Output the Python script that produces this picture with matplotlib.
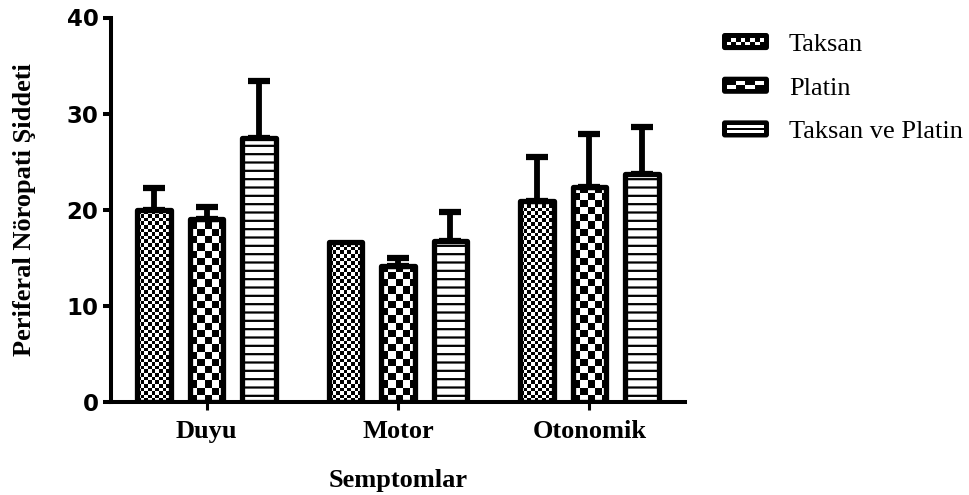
import numpy as np
import matplotlib
matplotlib.use('Agg')
import matplotlib.pyplot as plt
from matplotlib.patches import Rectangle, FancyBboxPatch
from matplotlib.legend_handler import HandlerBase

# data
categories = ['Duyu', 'Motor', 'Otonomik']
series_names = ['Taksan', 'Platin', 'Taksan ve Platin']
taksan_mean = [20.0, 16.6, 20.9]
taksan_err = [2.3, 0.0, 4.6]
platin_mean = [19.0, 14.2, 22.4]
platin_err = [1.3, 0.8, 5.5]
kombine_mean = [27.5, 16.7, 23.7]
kombine_err = [5.9, 3.1, 4.9]
y_ticks = [0, 10, 20, 30, 40]

SERIF = 'Liberation Serif'
plt.rcParams['hatch.linewidth'] = 1.6

W, H = 970, 495
fig = plt.figure(figsize=(W / 100, H / 100), dpi=100)
ax = fig.add_axes([111 / W, (H - 402) / H, 574 / W, 384.5 / H])

xlim = (-0.5, 2.5)
ylim = (0, 40)
px_x = (xlim[1] - xlim[0]) / 574.0   # data units per pixel
px_y = (ylim[1] - ylim[0]) / 384.5

x = np.arange(len(categories))
width = 0.175
offset = 0.274
edge_lw = 3.8


def checker_fill(bar, cell_px):
    """Fill a bar with a checkerboard image clipped to the bar outline."""
    x0 = bar.get_x()
    w = bar.get_width()
    h = bar.get_height()
    cw, ch = cell_px * px_x, cell_px * px_y
    ncols = int(np.ceil(w / cw)) + 1
    nrows = int(np.ceil(h / ch)) + 1
    grid = (np.add.outer(np.arange(nrows), np.arange(ncols)) % 2).astype(float)
    im = ax.imshow(grid, cmap='gray', vmin=0, vmax=1, interpolation='nearest',
                   origin='lower', aspect='auto', zorder=2,
                   extent=[x0, x0 + ncols * cw, 0, nrows * ch])
    im.set_clip_path(bar)


groups = [
    (taksan_mean, taksan_err, 'checker', 3.6),
    (platin_mean, platin_err, 'checker', 7.2),
    (kombine_mean, kombine_err, 'stripes', None),
]

for i, (means, errs, kind, cell) in enumerate(groups):
    pos = x + (i - 1) * offset
    if kind == 'stripes':
        bars = ax.bar(pos, means, width, facecolor='white', edgecolor='black',
                      hatch='--', linewidth=edge_lw, joinstyle='round', zorder=3)
    else:
        bars = ax.bar(pos, means, width, facecolor='none', edgecolor='black',
                      linewidth=edge_lw, joinstyle='round', zorder=3)
        for b in bars:
            checker_fill(b, cell)
    for p, m, e in zip(pos, means, errs):
        if e <= 0:
            continue
        ax.errorbar(p, m, yerr=[[0], [e]], fmt='none', ecolor='black',
                    elinewidth=4.2, capsize=8.0, capthick=4.5, zorder=2.5)

ax.set_xlim(*xlim)
ax.set_ylim(*ylim)

for s in ['top', 'right']:
    ax.spines[s].set_visible(False)
for s in ['left', 'bottom']:
    ax.spines[s].set_linewidth(2.9)

ax.set_yticks(y_ticks)
ax.set_yticklabels([str(v) for v in y_ticks], fontsize=16.5, fontweight='bold',
                   family='DejaVu Sans')
ax.tick_params(axis='y', length=6, width=2.9, pad=3)
ax.set_xticks(x)
ax.set_xticklabels(categories, fontsize=19, fontweight='bold', family=SERIF)
ax.tick_params(axis='x', length=6, width=2.2, pad=7)

ax.set_xlabel('Semptomlar', fontsize=19, fontweight='bold', family=SERIF, labelpad=19)
ax.set_ylabel('Periferal Nöropati Şiddeti', fontsize=19, fontweight='bold',
              family=SERIF)
ax.yaxis.set_label_coords(-0.13, 0.5)


class PatternHandler(HandlerBase):
    def __init__(self, kind, ncols=4):
        super().__init__()
        self.kind = kind
        self.ncols = ncols

    def create_artists(self, legend, orig_handle, xdescent, ydescent,
                       width, height, fontsize, trans):
        x0, y0 = -xdescent, -ydescent
        m = height * 0.27
        arts = [FancyBboxPatch((x0, y0), width, height,
                               boxstyle='round,pad=0,rounding_size=2',
                               fc='black', ec='black', lw=0, transform=trans)]
        ix, iy, iw, ih = x0 + m, y0 + m, width - 2 * m, height - 2 * m
        if self.kind == 'stripes':
            arts.append(Rectangle((ix, iy), iw, ih, fc='white', lw=0, transform=trans))
            arts.append(Rectangle((ix, iy + ih * 0.4), iw, ih * 0.2, fc='black',
                                  lw=0, transform=trans))
        else:
            cw = iw / self.ncols
            ch = ih / 2
            for r in range(2):
                for c in range(self.ncols):
                    if (r + c) % 2 == 0:
                        arts.append(Rectangle((ix + c * cw, iy + r * ch), cw, ch,
                                              fc='white', lw=0, transform=trans))
        return arts


handles = [Rectangle((0, 0), 1, 1) for _ in series_names]
handler_map = {
    handles[0]: PatternHandler('checker', 8),
    handles[1]: PatternHandler('checker', 4),
    handles[2]: PatternHandler('stripes'),
}
ax.legend(handles, series_names, handler_map=handler_map,
          loc='upper left', bbox_to_anchor=(722 / W, (H - 33) / H),
          bbox_transform=fig.transFigure, frameon=False,
          prop={'family': SERIF, 'size': 19}, handlelength=1.78,
          handleheight=0.62, handletextpad=0.75, labelspacing=0.79,
          borderpad=0, borderaxespad=0)

fig.savefig('out.png', dpi=100)
